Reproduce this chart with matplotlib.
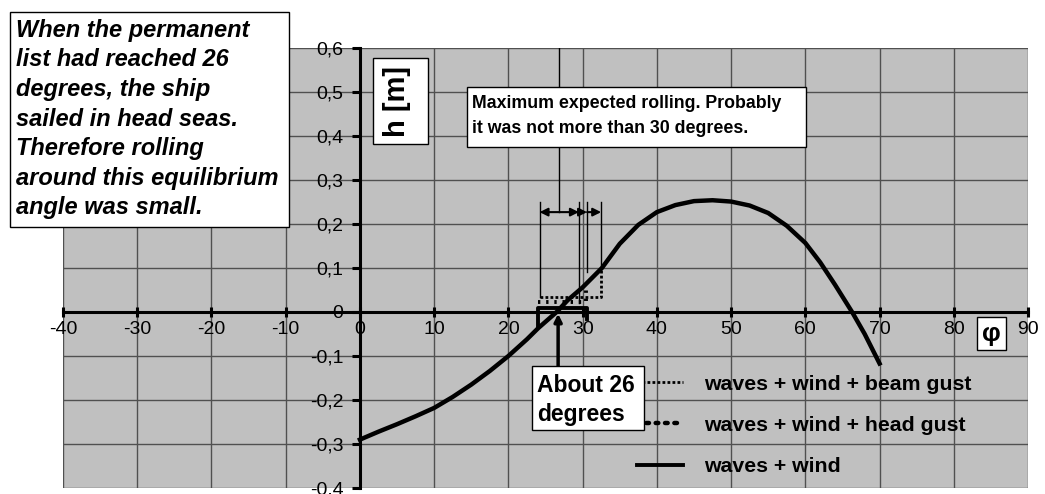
#importing libraries
import matplotlib
matplotlib.use("Agg")
import matplotlib.pyplot as plt
from matplotlib.patches import Rectangle
from matplotlib.lines import Line2D

#data
phi_wind = [0, 2.5, 5, 7.5, 10, 12.5, 15, 17.5, 20, 22.5, 24, 26.5, 28, 30, 32.6, 35, 37.5,
            40, 42.5, 45, 47.5, 50, 52.5, 55, 57.5, 60, 62, 64, 66.3, 68, 70]
h_wind = [-0.29, -0.272, -0.255, -0.237, -0.218, -0.193, -0.165, -0.134, -0.10, -0.062, -0.037, 0.0,
          0.027, 0.056, 0.10, 0.155, 0.198, 0.227, 0.243, 0.252, 0.254, 0.251, 0.242, 0.225, 0.196,
          0.157, 0.113, 0.062, 0.0, -0.05, -0.117]
phi_beam = [24.2, 32.5, 32.5]
h_beam = [0.034, 0.034, 0.10]
phi_head = [24.0, 30.4, 30.4]
h_head = [0.022, 0.022, 0.06]
phi_bracket = [24.0, 24.0, 30.6, 30.6]
h_bracket = [-0.035, 0.009, 0.009, -0.015]
roll_lines = [24.2, 29.5, 30.6, 32.5]
roll_ends = [0.034, 0.02, 0.09, 0.10]
xticks = list(range(-40, 91, 10))
yticks = [-0.4, -0.3, -0.2, -0.1, 0, 0.1, 0.2, 0.3, 0.4, 0.5, 0.6]
ylabels = ["-0,4", "-0,3", "-0,2", "-0,1", "0", "0,1", "0,2", "0,3", "0,4", "0,5", "0,6"]
note_lines = ["When the permanent", "list had reached 26", "degrees, the ship",
              "sailed in head seas.", "Therefore rolling", "around this equilibrium",
              "angle was small."]

plt.rcParams['font.family'] = ['Liberation Sans', 'DejaVu Sans']
plt.rcParams['axes.unicode_minus'] = False

W, H = 1045, 494
fig = plt.figure(figsize=(W / 100, H / 100), dpi=100)
ax = fig.add_axes([63 / W, 6 / H, 965 / W, 440 / H])
ax.set_facecolor('#c0c0c0')
ax.set_xlim(-40, 90)
ax.set_ylim(-0.4, 0.6)
ax.set_xticks(xticks)
ax.set_yticks(yticks)
ax.set_yticklabels(ylabels)
ax.grid(True, color='#505050', lw=1)
ax.set_axisbelow(True)
for s in ['top', 'right']:
    ax.spines[s].set_visible(False)
ax.spines['left'].set_position(('data', 0))
ax.spines['bottom'].set_position(('data', 0))
ax.spines['left'].set_linewidth(2.2)
ax.spines['bottom'].set_linewidth(2.2)
ax.tick_params(axis='x', direction='inout', length=7, width=2.2, pad=3, labelsize=14)
ax.tick_params(axis='y', direction='out', length=6, width=2.2, pad=6, labelsize=14)

#series
head_ls = (0, (0.6, 1.5))
ax.plot(phi_wind, h_wind, color='black', lw=3.2, solid_joinstyle='round', zorder=4)
ax.plot(phi_beam, h_beam, color='black', lw=2, ls=(0, (1, 0.8)), zorder=4)
ax.plot(phi_head, h_head, color='black', lw=2.8, ls=head_ls, zorder=4)
ax.plot(phi_bracket, h_bracket, color='black', lw=2.8, zorder=4)

#rolling marks
for p, e in zip(roll_lines, roll_ends):
    ax.plot([p, p], [0.25, e], color='black', lw=1, zorder=3)
ax.plot([26.8, 26.8], [0.6, 0.227], color='black', lw=1, zorder=3)
ax.annotate('', xy=(29.5, 0.227), xytext=(24.2, 0.227),
            arrowprops=dict(arrowstyle='<|-|>', color='black', lw=1.5, mutation_scale=12, shrinkA=0, shrinkB=0))
ax.annotate('', xy=(30.6, 0.227), xytext=(29.5, 0.227),
            arrowprops=dict(arrowstyle='-|>', color='black', lw=1.5, mutation_scale=12, shrinkA=0, shrinkB=0))
ax.annotate('', xy=(32.5, 0.227), xytext=(30.6, 0.227),
            arrowprops=dict(arrowstyle='-|>', color='black', lw=1.5, mutation_scale=12, shrinkA=0, shrinkB=0))
ax.annotate('', xy=(26.7, -0.004), xytext=(26.7, -0.125),
            arrowprops=dict(arrowstyle='-|>', color='black', lw=2.5, mutation_scale=11, shrinkA=0, shrinkB=0),
            zorder=5)

#legend
handles = [Line2D([], [], color='black', lw=2, ls=(0, (1, 0.8))),
           Line2D([], [], color='black', lw=3.2, ls=head_ls, dash_capstyle='round'),
           Line2D([], [], color='black', lw=2.8)]
ax.legend(handles, ["waves + wind + beam gust", "waves + wind + head gust", "waves + wind"],
          frameon=False, loc='upper left', bbox_to_anchor=(628 / W, 1 - 366 / H),
          bbox_transform=fig.transFigure, handlelength=2.2, handletextpad=1.0,
          labelspacing=1.05, prop=dict(weight='bold', size=15.3), borderaxespad=0)

#text boxes in pixel coordinates
ov = fig.add_axes([0, 0, 1, 1])
ov.set_xlim(0, W)
ov.set_ylim(H, 0)
ov.axis('off')
ov.patch.set_alpha(0)

def box(x0, y0, x1, y1):
    ov.add_patch(Rectangle((x0, y0), x1 - x0, y1 - y0, facecolor='white', edgecolor='black', lw=1))

box(10, 12, 289, 227)
for i, t in enumerate(note_lines):
    ov.text(16, 37 + 29.5 * i, t, fontsize=17, weight='bold', style='italic', va='baseline')

box(373, 58, 428, 144)
ov.text(397, 101, "h [m]", rotation=90, fontsize=21, weight='bold', ha='center', va='center')

box(467, 87, 806, 147)
ov.text(472, 108, "Maximum expected rolling. Probably", fontsize=12.8, weight='bold', va='baseline')
ov.text(472, 133, "it was not more than 30 degrees.", fontsize=12.8, weight='bold', va='baseline')

box(532, 366, 644, 430)
ov.text(537, 392, "About 26", fontsize=16.5, weight='bold', va='baseline')
ov.text(537, 421, "degrees", fontsize=16.5, weight='bold', va='baseline')

box(977, 317, 1006, 350)
ov.text(991.5, 334, "φ", fontsize=19, weight='bold', ha='center', va='center')

fig.savefig("out.png", dpi=100)
